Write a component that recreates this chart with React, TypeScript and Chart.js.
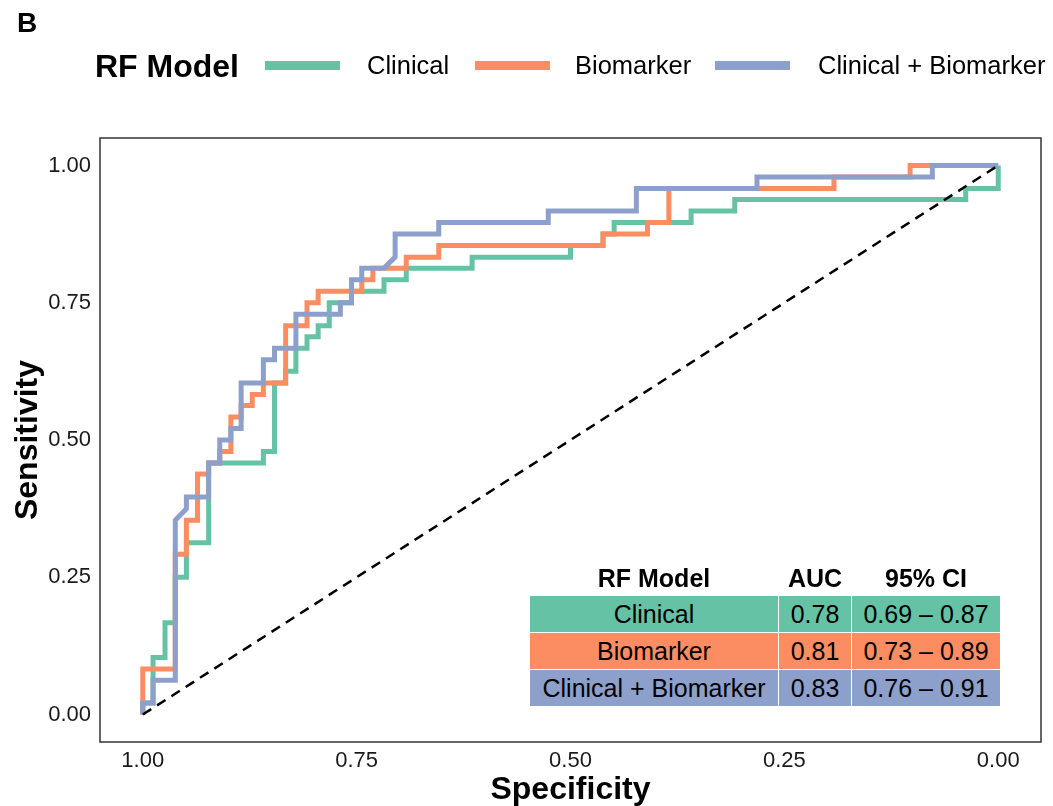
import React, { useEffect, useRef } from 'react';
import { Chart, registerables } from 'chart.js';

Chart.register(...registerables);

const FONT = '"Liberation Sans", Arial, Helvetica, sans-serif';

const panelLabel = 'B';
const legendTitle = 'RF Model';
const seriesNames = ['Clinical', 'Biomarker', 'Clinical + Biomarker'];
const seriesColors = ['#66C2A5', '#FC8D62', '#8DA0CB'];

// Clinical (green) ROC curve
const clinicalSpec = [1, 1, 0.988, 0.988, 0.974, 0.974, 0.962, 0.962, 0.949, 0.949, 0.923, 0.923, 0.859, 0.859, 0.846, 0.846, 0.833, 0.833, 0.821, 0.821, 0.808, 0.808, 0.795, 0.795, 0.782, 0.782, 0.756, 0.756, 0.718, 0.718, 0.692, 0.692, 0.615, 0.615, 0.5, 0.5, 0.462, 0.462, 0.449, 0.449, 0.359, 0.359, 0.308, 0.308, 0.038, 0.038, 0, 0];
const clinicalSens = [0, 0.021, 0.021, 0.104, 0.104, 0.167, 0.167, 0.25, 0.25, 0.313, 0.313, 0.458, 0.458, 0.479, 0.479, 0.604, 0.604, 0.625, 0.625, 0.667, 0.667, 0.688, 0.688, 0.708, 0.708, 0.75, 0.75, 0.771, 0.771, 0.792, 0.792, 0.813, 0.813, 0.833, 0.833, 0.854, 0.854, 0.875, 0.875, 0.896, 0.896, 0.917, 0.917, 0.938, 0.938, 0.958, 0.958, 1];

// Biomarker (orange) ROC curve
const biomarkerSpec = [1, 1, 0.962, 0.962, 0.949, 0.949, 0.936, 0.936, 0.923, 0.923, 0.91, 0.91, 0.897, 0.897, 0.885, 0.885, 0.872, 0.872, 0.859, 0.859, 0.833, 0.833, 0.808, 0.808, 0.795, 0.795, 0.744, 0.744, 0.731, 0.731, 0.692, 0.692, 0.654, 0.654, 0.462, 0.462, 0.41, 0.41, 0.385, 0.385, 0.192, 0.192, 0.103, 0.103, 0];
const biomarkerSens = [0, 0.083, 0.083, 0.292, 0.292, 0.354, 0.354, 0.438, 0.438, 0.458, 0.458, 0.479, 0.479, 0.542, 0.542, 0.563, 0.563, 0.583, 0.583, 0.604, 0.604, 0.708, 0.708, 0.75, 0.75, 0.771, 0.771, 0.792, 0.792, 0.813, 0.813, 0.833, 0.833, 0.854, 0.854, 0.875, 0.875, 0.896, 0.896, 0.958, 0.958, 0.979, 0.979, 1, 1];

// Clinical + Biomarker (blue) ROC curve
const combinedSpec = [1, 1, 0.988, 0.988, 0.962, 0.962, 0.949, 0.949, 0.923, 0.923, 0.91, 0.91, 0.897, 0.897, 0.885, 0.885, 0.859, 0.859, 0.846, 0.846, 0.821, 0.821, 0.769, 0.769, 0.756, 0.756, 0.744, 0.744, 0.718, 0.705, 0.705, 0.654, 0.654, 0.526, 0.526, 0.423, 0.423, 0.282, 0.282, 0.077, 0.077, 0];
const combinedSens = [0, 0.021, 0.021, 0.0625, 0.0625, 0.354, 0.375, 0.396, 0.396, 0.458, 0.458, 0.5, 0.5, 0.521, 0.521, 0.604, 0.604, 0.646, 0.646, 0.667, 0.667, 0.729, 0.729, 0.75, 0.75, 0.792, 0.792, 0.813, 0.813, 0.833, 0.875, 0.875, 0.896, 0.896, 0.917, 0.917, 0.958, 0.958, 0.979, 0.979, 1, 1];

// Reference (chance) line
const diagonalSpec = [1, 0];
const diagonalSens = [0, 1];

const tickValues = [0, 0.25, 0.5, 0.75, 1];

// AUC table
const tableHeaders = ['RF Model', 'AUC', '95% CI'];
const aucValues = ['0.78', '0.81', '0.83'];
const ciLower = ['0.69', '0.73', '0.76'];
const ciUpper = ['0.87', '0.89', '0.91'];

const zip = (xs: number[], ys: number[]) => xs.map((x, i) => ({ x, y: ys[i] }));

const framePlugin = {
  id: 'panelFrame',
  afterDatasetsDraw(chart: any) {
    const { ctx, chartArea } = chart;
    const { left, top, right, bottom } = chartArea;
    ctx.save();
    ctx.strokeStyle = '#333333';
    ctx.lineWidth = 1.5;
    ctx.strokeRect(left, top, right - left, bottom - top);
    ctx.restore();
  },
};

export default function App() {
  const canvasRef = useRef<HTMLCanvasElement | null>(null);

  useEffect(() => {
    const canvas = canvasRef.current;
    if (!canvas) return;
    const curves = [
      { spec: clinicalSpec, sens: clinicalSens, order: 2 },
      { spec: biomarkerSpec, sens: biomarkerSens, order: 1 },
      { spec: combinedSpec, sens: combinedSens, order: 0 },
    ];
    const datasets: any[] = curves.map((c, i) => ({
      label: seriesNames[i],
      data: zip(c.spec, c.sens),
      showLine: true,
      borderColor: seriesColors[i],
      backgroundColor: seriesColors[i],
      borderWidth: 5,
      pointRadius: 0,
      borderJoinStyle: 'miter',
      borderCapStyle: 'butt',
      order: c.order,
    }));
    datasets.push({
      label: 'Reference',
      data: zip(diagonalSpec, diagonalSens),
      showLine: true,
      borderColor: '#000000',
      borderWidth: 2.5,
      borderDash: [10, 7],
      pointRadius: 0,
      order: -1,
    });

    const tickFont = { family: FONT, size: 22 };
    const xTitleFont = { family: FONT, size: 32, weight: 'bold' as const, lineHeight: 1 };
    const yTitleFont = { family: FONT, size: 32, weight: 'bold' as const, lineHeight: 1.2 };

    const chart = new Chart(canvas, {
      type: 'scatter',
      data: { datasets },
      options: {
        responsive: false,
        animation: false,
        devicePixelRatio: 1,
        layout: { padding: { left: 0, right: 12, top: 138, bottom: 0 } },
        plugins: { legend: { display: false }, tooltip: { enabled: false } },
        elements: { line: { tension: 0 } },
        scales: {
          x: {
            type: 'linear',
            reverse: true,
            min: -0.05,
            max: 1.05,
            grid: { display: false, drawTicks: false },
            border: { display: false },
            afterBuildTicks: (s: any) => {
              s.ticks = tickValues.map((v) => ({ value: v }));
            },
            afterFit: (s: any) => {
              s.height = 64;
            },
            ticks: {
              callback: (v: any) => Number(v).toFixed(2),
              font: tickFont,
              color: '#1a1a1a',
              padding: 6,
              maxRotation: 0,
              autoSkip: false,
            },
            title: {
              display: true,
              text: 'Specificity',
              font: xTitleFont,
              color: '#000000',
              padding: { top: 0, bottom: 0 },
            },
          },
          y: {
            type: 'linear',
            min: -0.05,
            max: 1.05,
            grid: { display: false, drawTicks: false },
            border: { display: false },
            afterBuildTicks: (s: any) => {
              s.ticks = tickValues.map((v) => ({ value: v }));
            },
            afterFit: (s: any) => {
              s.width = 100;
            },
            ticks: {
              callback: (v: any) => Number(v).toFixed(2),
              font: tickFont,
              color: '#1a1a1a',
              padding: 9,
              autoSkip: false,
            },
            title: {
              display: true,
              text: 'Sensitivity',
              font: yTitleFont,
              color: '#000000',
              padding: { top: 9, bottom: 0 },
            },
          },
        },
      } as any,
      plugins: [framePlugin],
    });
    return () => chart.destroy();
  }, []);

  const swatchLefts = [265, 475, 715];
  const labelLefts = [367, 575, 818];
  const colLefts = [530, 779, 852];
  const colWidths = [248, 72, 148];
  const rowTop = 596;
  const rowH = 36;
  const rowGap = 1;

  const centered = (left: number, top: number, width: number, height: number, extra: any = {}) => ({
    position: 'absolute' as const,
    left,
    top,
    width,
    height,
    lineHeight: `${height}px`,
    textAlign: 'center' as const,
    whiteSpace: 'nowrap' as const,
    ...extra,
  });

  return (
    <div
      style={{
        position: 'absolute',
        left: 0,
        top: 0,
        width: 1053,
        height: 806,
        background: '#ffffff',
        fontFamily: FONT,
        color: '#000',
        overflow: 'hidden',
      }}
    >
      <canvas ref={canvasRef} width={1053} height={806} style={{ position: 'absolute', left: 0, top: 0, width: 1053, height: 806 }} />
      <div style={{ position: 'absolute', left: 17, top: 6, height: 34, lineHeight: '34px', fontSize: 28, fontWeight: 'bold' }}>{panelLabel}</div>
      <div style={{ position: 'absolute', left: 95, top: 47, height: 38, lineHeight: '38px', fontSize: 32, fontWeight: 'bold', whiteSpace: 'nowrap' }}>{legendTitle}</div>
      {seriesNames.map((name, i) => (
        <React.Fragment key={name}>
          <div style={{ position: 'absolute', left: swatchLefts[i], top: 61, width: 75, height: 9, background: seriesColors[i] }} />
          <div style={{ position: 'absolute', left: labelLefts[i], top: 48, height: 34, lineHeight: '34px', fontSize: 25.5, whiteSpace: 'nowrap' }}>{name}</div>
        </React.Fragment>
      ))}
      {tableHeaders.map((h, c) => (
        <div key={h} style={centered(colLefts[c], 560, colWidths[c], 36, { fontSize: 25, fontWeight: 'bold' })}>
          {h}
        </div>
      ))}
      {seriesNames.map((name, r) => {
        const cells = [name, aucValues[r], `${ciLower[r]} \u2013 ${ciUpper[r]}`];
        return cells.map((txt, c) => (
          <div
            key={`${r}-${c}`}
            style={centered(colLefts[c], rowTop + r * (rowH + rowGap), colWidths[c], rowH, {
              fontSize: 25,
              background: seriesColors[r],
            })}
          >
            {txt}
          </div>
        ));
      })}
    </div>
  );
}
